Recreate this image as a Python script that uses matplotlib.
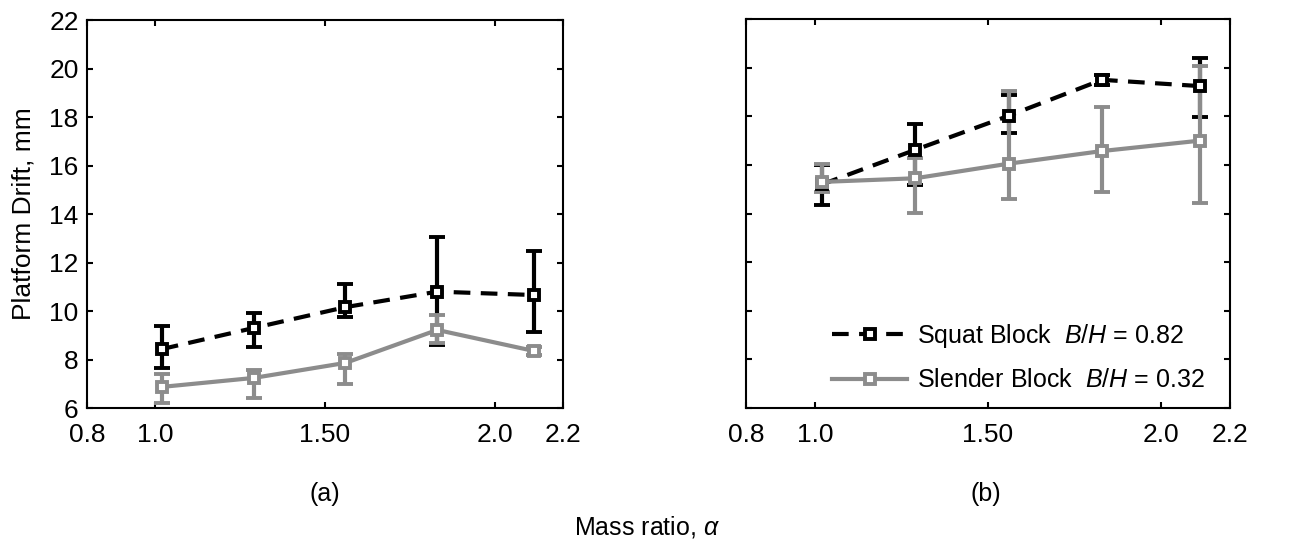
import numpy as np
import matplotlib
matplotlib.use('Agg')
import matplotlib.pyplot as plt
from matplotlib.lines import Line2D

plt.rcParams['font.family'] = ['Liberation Sans', 'DejaVu Sans']
plt.rcParams['mathtext.fontset'] = 'custom'
plt.rcParams['mathtext.it'] = 'Liberation Sans:italic'
plt.rcParams['mathtext.rm'] = 'Liberation Sans'

# mass ratio values
alpha = [1.02, 1.29, 1.56, 1.83, 2.115]

# (a) squat block
sq_a = [8.43, 9.30, 10.16, 10.80, 10.66]
sq_a_lo = [7.65, 8.52, 9.75, 8.60, 9.13]
sq_a_hi = [9.38, 9.92, 11.11, 13.05, 12.47]
# (a) slender block
sl_a = [6.87, 7.24, 7.86, 9.22, 8.35]
sl_a_lo = [6.20, 6.41, 6.99, 8.68, 8.20]
sl_a_hi = [7.40, 7.57, 8.23, 9.84, 8.50]

# (b) squat block
sq_b = [15.20, 16.62, 18.02, 19.50, 19.24]
sq_b_lo = [14.34, 15.17, 17.30, 19.30, 17.96]
sq_b_hi = [16.00, 17.68, 18.87, 19.70, 20.40]
# (b) slender block
sl_b = [15.30, 15.45, 16.05, 16.57, 17.00]
sl_b_lo = [14.90, 14.02, 14.60, 14.90, 14.43]
sl_b_hi = [16.05, 16.30, 19.05, 18.38, 20.07]

xticks = [0.8, 1.0, 1.5, 2.0, 2.2]
xticklabels = ['0.8', '1.0', '1.50', '2.0', '2.2']
yticks = [6, 8, 10, 12, 14, 16, 18, 20, 22]

labels = ['Squat Block  $B/H$ = 0.82', 'Slender Block  $B/H$ = 0.32']
gray = '#8c8c8c'
fs = 19

fig = plt.figure(figsize=(12.95, 5.44), dpi=100)
ax1 = fig.add_axes([0.0672, 0.25, 0.3676, 0.713])
ax2 = fig.add_axes([0.576, 0.25, 0.3737, 0.715])

sq_style = dict(color='black', ls='--', lw=3, marker='s', ms=7,
                mfc='white', mec='black', mew=2.8, dashes=(4, 2.5))
sl_style = dict(color=gray, ls='-', lw=3, marker='s', ms=7,
                mfc='white', mec=gray, mew=2.8)


def draw(ax, y1, lo1, hi1, y2, lo2, hi2):
    y1 = np.array(y1); y2 = np.array(y2)
    e1 = [y1 - np.array(lo1), np.array(hi1) - y1]
    e2 = [y2 - np.array(lo2), np.array(hi2) - y2]
    ax.errorbar(alpha, y1, yerr=e1, elinewidth=3, capsize=6, capthick=3,
                **sq_style)
    ax.errorbar(alpha, y2, yerr=e2, elinewidth=3, capsize=6, capthick=3,
                **sl_style)
    ax.set_xlim(0.8, 2.2)
    ax.set_ylim(6, 22)
    ax.set_xticks(xticks)
    ax.set_xticklabels(xticklabels)
    ax.set_yticks(yticks)
    ax.tick_params(direction='in', top=True, right=True, length=4,
                   width=1.5, labelsize=fs)
    ax.tick_params(axis='x', pad=11)
    ax.tick_params(axis='y', pad=6)
    for s in ax.spines.values():
        s.set_linewidth(1.5)


draw(ax1, sq_a, sq_a_lo, sq_a_hi, sl_a, sl_a_lo, sl_a_hi)
draw(ax2, sq_b, sq_b_lo, sq_b_hi, sl_b, sl_b_lo, sl_b_hi)

ax1.set_ylabel('Platform Drift, mm', fontsize=fs, labelpad=10)
ax2.set_yticklabels([])

handles = [Line2D([], [], **sq_style), Line2D([], [], **sl_style)]
ax2.legend(handles, labels, loc='upper left', bbox_to_anchor=(0.178, 0.222),
           fontsize=18, frameon=False, handlelength=3.0, handletextpad=0.4,
           labelspacing=0.75, borderpad=0, borderaxespad=0)

fig.text(0.251, 0.092, '(a)', fontsize=18, ha='center', va='center')
fig.text(0.761, 0.092, '(b)', fontsize=18, ha='center', va='center')
fig.text(0.5, 0.031, 'Mass ratio, $\\alpha$', fontsize=18, ha='center',
         va='center')

fig.savefig('out.png', dpi=100)
